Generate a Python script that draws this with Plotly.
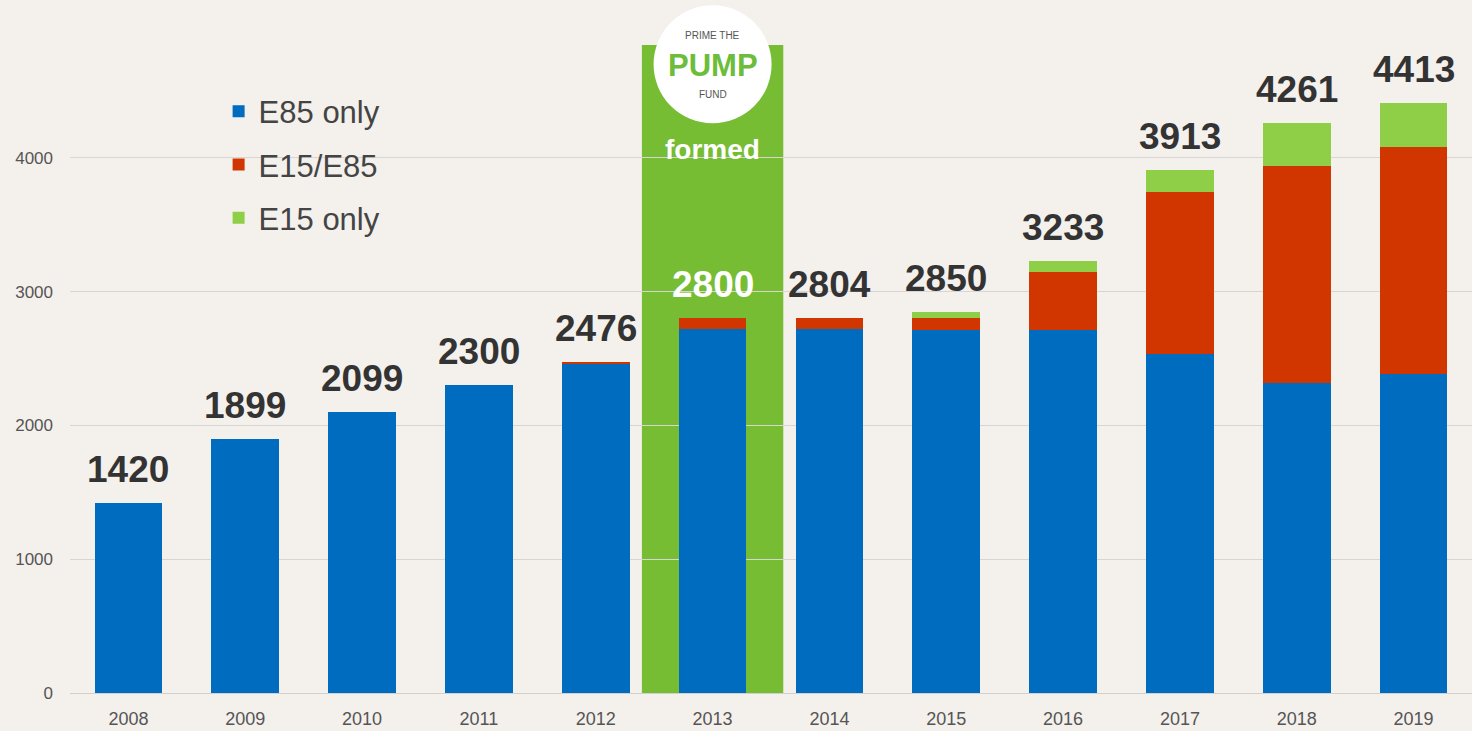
import plotly.graph_objects as go

years = ["2008", "2009", "2010", "2011", "2012", "2013", "2014", "2015", "2016", "2017", "2018", "2019"]
e85_only = [1420, 1899, 2099, 2300, 2466, 2720, 2720, 2714, 2714, 2532, 2316, 2383]
e15_e85 = [0, 0, 0, 0, 10, 80, 84, 90, 436, 1214, 1624, 1702]
e15_only = [0, 0, 0, 0, 0, 0, 0, 46, 83, 167, 321, 328]
totals = [1420, 1899, 2099, 2300, 2476, 2800, 2804, 2850, 3233, 3913, 4261, 4413]
highlight_year = "2013"

BLUE = "#006CC0"
RED = "#D23600"
LGREEN = "#8FCF48"
HGREEN = "#76BD33"
BG = "#F4F0EC"

fig = go.Figure()
fig.add_trace(go.Bar(x=years, y=e85_only, name="E85 only", marker=dict(color=BLUE, line_width=0), legendgroup="a"))
fig.add_trace(go.Bar(x=years, y=e15_e85, name="E15/E85", marker=dict(color=RED, line_width=0), legendgroup="b"))
fig.add_trace(go.Bar(x=years, y=e15_only, name="E15 only", marker=dict(color=LGREEN, line_width=0), legendgroup="c"))

hi = years.index(highlight_year)
# highlight band
fig.add_shape(type="rect", xref="x", yref="y", x0=hi - 0.605, x1=hi + 0.605, y0=0, y1=4845,
              fillcolor=HGREEN, line_width=0, layer="below")
# logo circle
fig.add_shape(type="circle", xref="x", yref="y", xsizemode="pixel", ysizemode="pixel",
              xanchor=hi, yanchor=4700, x0=-59, x1=59, y0=-59, y1=59,
              fillcolor="white", line_width=0, layer="above")

annotations = []
for i, (yr, t) in enumerate(zip(years, totals)):
    annotations.append(dict(x=i, y=t, text=f"<b>{t}</b>", showarrow=False, yanchor="bottom",
                            yshift=11, font=dict(family="Liberation Sans, Arial", size=37,
                                                 color="white" if yr == highlight_year else "#333333")))
annotations += [
    dict(x=hi, y=4912, text="PRIME THE", showarrow=False, font=dict(family="Liberation Sans, Arial", size=10, color="#555555")),
    dict(x=hi, y=4688, text="<b>PUMP</b>", showarrow=False, font=dict(family="Liberation Sans, Arial", size=31, color="#6CBD3A")),
    dict(x=hi, y=4478, text="FUND", showarrow=False, font=dict(family="Liberation Sans, Arial", size=10, color="#555555")),
    dict(x=hi, y=4067, text="<b>formed</b>", showarrow=False, font=dict(family="Liberation Sans, Arial", size=28, color="white")),
]

fig.update_layout(
    width=1472, height=731,
    margin=dict(l=70, r=0, t=0, b=38),
    paper_bgcolor=BG, plot_bgcolor=BG,
    barmode="stack", bargap=0.42,
    showlegend=True,
    legend=dict(x=0.106, y=0.878, xanchor="left", yanchor="top", bgcolor="rgba(0,0,0,0)",
                font=dict(family="Liberation Sans, Arial", size=31, color="#444444"),
                traceorder="grouped", tracegroupgap=10, itemwidth=30),
    annotations=annotations,
    xaxis=dict(type="category", range=[-0.5, 11.5], showgrid=False, showline=True, linecolor="#D0D0D0",
               linewidth=1, ticks="", tickfont=dict(family="Liberation Sans, Arial", size=18, color="#555555"),
               ticklabelstandoff=9),
    yaxis=dict(range=[0, 5181], tickvals=[0, 1000, 2000, 3000, 4000], showgrid=True, gridcolor="#D8D6D4",
               gridwidth=1, zeroline=False, ticks="", ticklabelstandoff=16,
               tickfont=dict(family="Liberation Sans, Arial", size=17, color="#555555")),
    font=dict(family="Liberation Sans, Arial"),
)

fig.write_html("out.html", config={"displayModeBar": False},
               post_script="document.body.style.margin='0';document.body.style.padding='0';document.body.style.overflow='hidden';")
